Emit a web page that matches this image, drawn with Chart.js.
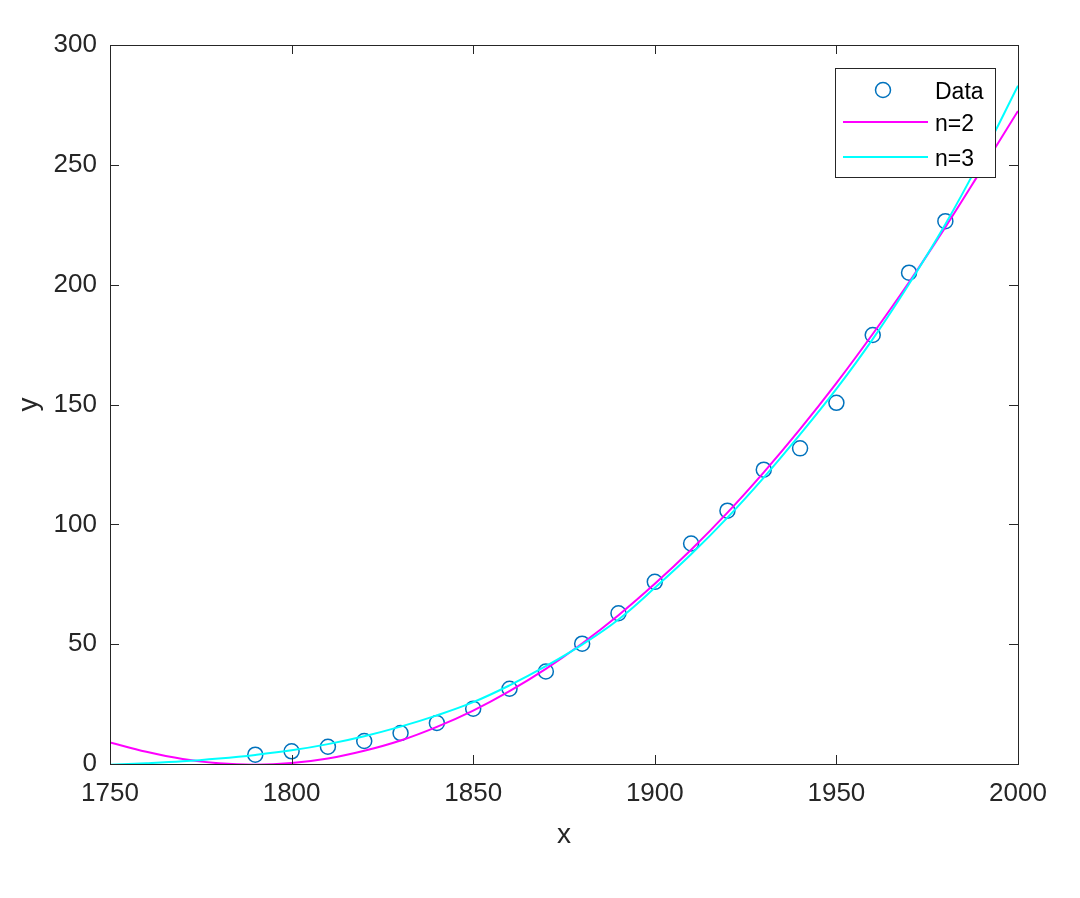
<!DOCTYPE html>
<html>
  <head>
    <title>Census fit</title>
    <style>
      body {
        background-color: white;
        margin: 0;
        padding: 0;
      }
      canvas {
        display: block;
      }
    </style>
    <script src="https://cdn.jsdelivr.net/npm/chart.js"></script>
  </head>
  <body>
    <canvas id="fitChart" width="1080" height="898"></canvas>
    <script>
      // census points
      const years = [1790, 1800, 1810, 1820, 1830, 1840, 1850, 1860, 1870, 1880,
                     1890, 1900, 1910, 1920, 1930, 1940, 1950, 1960, 1970, 1980];
      const pop = [3.9, 5.3, 7.2, 9.6, 12.9, 17.1, 23.1, 31.4, 38.6, 50.2,
                   62.9, 76.0, 92.0, 105.7, 122.8, 131.7, 150.7, 179.0, 205.0, 226.5];

      // fitted curves, every 10 years
      const fitYears = [1750, 1760, 1770, 1780, 1790, 1800, 1810, 1820, 1830, 1840, 1850, 1860, 1870,
                        1880, 1890, 1900, 1910, 1920, 1930, 1940, 1950, 1960, 1970, 1980, 1990, 2000];
      const fit2 = [9.0, 5.1, 2.1, 0.3, -0.3, 0.4, 2.3, 5.5, 9.8, 15.5, 22.3, 30.4, 39.7,
                    50.3, 62.1, 75.2, 89.4, 104.9, 121.7, 139.7, 158.9, 179.4, 201.0, 224.0, 248.1, 272.5];
      const fit3 = [-0.3, 0.3, 1.1, 2.3, 3.8, 5.7, 8.3, 11.6, 15.6, 20.3, 25.8, 32.8, 40.8,
                    49.8, 60.3, 73.5, 87.5, 102.8, 119.5, 137.5, 156.5, 177.3, 200.3, 225.2, 253.0, 283.0];

      const xTicks = [1750, 1800, 1850, 1900, 1950, 2000];
      const yTicks = [0, 50, 100, 150, 200, 250, 300];
      const legendLabels = ["Data", "n=2", "n=3"];

      const axisColor = "#262626";
      const blue = "#0072BD";
      const magenta = "#FF00FF";
      const cyan = "#00FFFF";

      const toPoints = (xs, ys) => xs.map((v, i) => ({ x: v, y: ys[i] }));

      // box, inward ticks and the legend, MATLAB style
      const frame = {
        id: "frame",
        afterDatasetsDraw(chart) {
          const { ctx, chartArea: a, scales } = chart;
          const x = scales.x, y = scales.y;
          const tl = 9;
          ctx.save();
          ctx.strokeStyle = axisColor;
          ctx.lineWidth = 1;
          ctx.beginPath();
          xTicks.forEach(v => {
            const px = Math.round(x.getPixelForValue(v)) + 0.5;
            ctx.moveTo(px, a.bottom); ctx.lineTo(px, a.bottom - tl);
            ctx.moveTo(px, a.top); ctx.lineTo(px, a.top + tl);
          });
          yTicks.forEach(v => {
            const py = Math.round(y.getPixelForValue(v)) + 0.5;
            ctx.moveTo(a.left, py); ctx.lineTo(a.left + tl, py);
            ctx.moveTo(a.right, py); ctx.lineTo(a.right - tl, py);
          });
          ctx.stroke();
          ctx.strokeRect(Math.round(a.left) + 0.5, Math.round(a.top) + 0.5,
                         Math.round(a.right - a.left), Math.round(a.bottom - a.top));

          // legend
          const lx = a.right - 183, ly = a.top + 23, lw = 160, lh = 109;
          ctx.fillStyle = "white";
          ctx.fillRect(lx, ly, lw, lh);
          ctx.strokeStyle = axisColor;
          ctx.strokeRect(lx + 0.5, ly + 0.5, lw, lh);
          const rows = [ly + 22, ly + 54, ly + 89];
          ctx.lineWidth = 1.5;
          ctx.strokeStyle = blue;
          ctx.beginPath();
          ctx.arc(lx + 48, rows[0], 7.5, 0, Math.PI * 2);
          ctx.stroke();
          ctx.lineWidth = 2;
          ctx.strokeStyle = magenta;
          ctx.beginPath(); ctx.moveTo(lx + 8, rows[1]); ctx.lineTo(lx + 93, rows[1]); ctx.stroke();
          ctx.strokeStyle = cyan;
          ctx.beginPath(); ctx.moveTo(lx + 8, rows[2]); ctx.lineTo(lx + 93, rows[2]); ctx.stroke();
          ctx.fillStyle = "#000000";
          ctx.font = "23px 'Liberation Sans', Arial, sans-serif";
          ctx.textBaseline = "middle";
          ctx.textAlign = "left";
          legendLabels.forEach((t, i) => ctx.fillText(t, lx + 100, rows[i] + 3));
          ctx.restore();
        }
      };

      const tickFont = { family: "'Liberation Sans', Arial, sans-serif", size: 26 };
      const titleFont = { family: "'Liberation Sans', Arial, sans-serif", size: 28 };

      new Chart(document.getElementById("fitChart"), {
        type: "scatter",
        data: {
          datasets: [
            {
              label: legendLabels[0],
              data: toPoints(years, pop),
              showLine: false,
              pointStyle: "circle",
              pointRadius: 7.5,
              pointBorderWidth: 1.5,
              pointBorderColor: blue,
              pointBackgroundColor: "rgba(0,0,0,0)",
              order: 3
            },
            {
              label: legendLabels[1],
              data: toPoints(fitYears, fit2),
              showLine: true,
              borderColor: magenta,
              borderWidth: 2,
              pointRadius: 0,
              tension: 0.4,
              clip: 0,
              order: 2
            },
            {
              label: legendLabels[2],
              data: toPoints(fitYears, fit3),
              showLine: true,
              borderColor: cyan,
              borderWidth: 2,
              pointRadius: 0,
              tension: 0.4,
              clip: 0,
              order: 1
            }
          ]
        },
        options: {
          responsive: false,
          animation: false,
          layout: { padding: { top: 45, right: 62, left: 0, bottom: 0 } },
          plugins: { legend: { display: false }, tooltip: { enabled: false } },
          scales: {
            x: {
              type: "linear",
              min: 1750,
              max: 2000,
              afterFit: s => { s.height = 134; },
              afterBuildTicks: s => { s.ticks = xTicks.map(v => ({ value: v })); },
              grid: { display: false, drawTicks: false },
              border: { display: false },
              ticks: { color: axisColor, font: tickFont, padding: 14, maxRotation: 0, callback: v => String(v) },
              title: { display: true, text: "x", color: axisColor, font: titleFont, padding: { top: 0, bottom: 46 } }
            },
            y: {
              type: "linear",
              min: 0,
              max: 300,
              afterFit: s => { s.width = 110; },
              afterBuildTicks: s => { s.ticks = yTicks.map(v => ({ value: v })); },
              grid: { display: false, drawTicks: false },
              border: { display: false },
              ticks: { color: axisColor, font: tickFont, padding: 13, callback: v => String(v) },
              title: { display: true, text: "y", color: axisColor, font: titleFont, padding: { top: 12, bottom: 0 } }
            }
          }
        },
        plugins: [frame]
      });
    </script>
  </body>
</html>
